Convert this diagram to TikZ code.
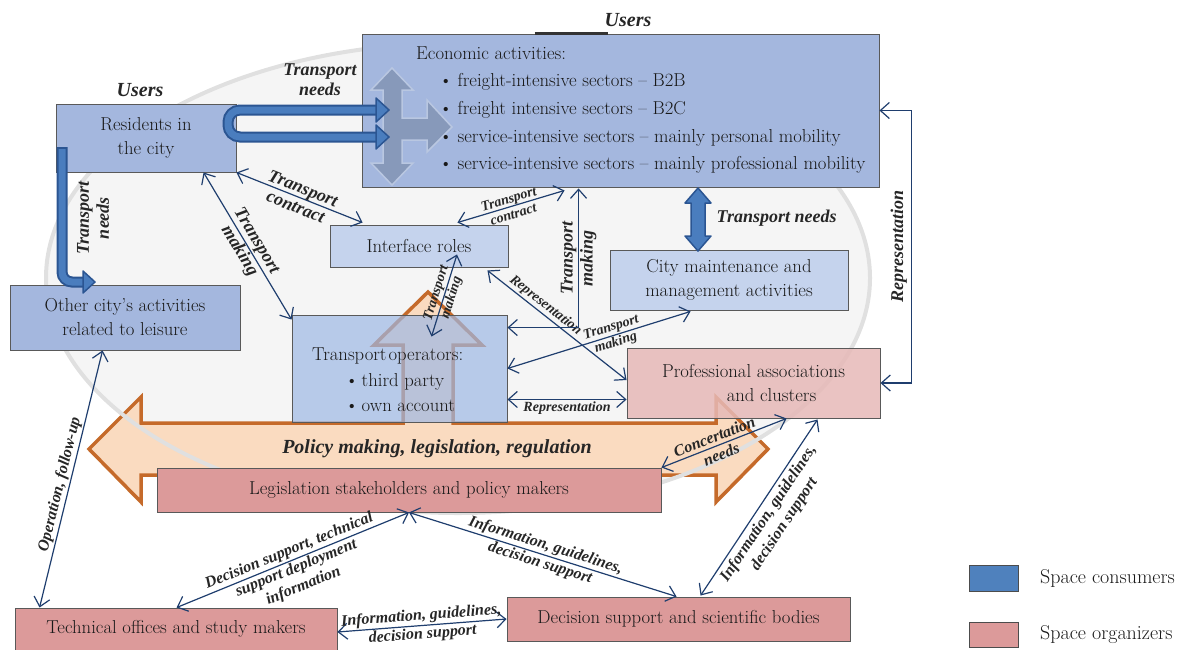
\documentclass[tikz,border=0pt]{standalone}
\usepackage{fontspec}
\newfontfamily\lblfont{Liberation Serif}
\usetikzlibrary{arrows.meta,calc}

\definecolor{blueA}{HTML}{A4B7DE}
\definecolor{blueB}{HTML}{C5D3ED}
\definecolor{blueC}{HTML}{9EB8E4}
\definecolor{pinkA}{HTML}{DC9A9A}
\definecolor{pinkB}{HTML}{E6B9B7}
\definecolor{linkblue}{HTML}{1F3E6E}
\definecolor{thickfill}{HTML}{4A7DBE}
\definecolor{thickdraw}{HTML}{2B5592}
\definecolor{policyfill}{HTML}{FADBC0}
\definecolor{policydraw}{HTML}{C56A2A}
\definecolor{crossfill}{HTML}{8799BA}
\definecolor{crossdraw}{HTML}{B9C7E1}
\definecolor{ovalfill}{HTML}{F5F5F5}
\definecolor{ovaldraw}{HTML}{E0E0E0}
\definecolor{legblue}{HTML}{4F81BD}

\tikzset{
  box/.style={draw=black!65, line width=0.9pt, inner sep=0pt, align=center,
    text=black!90, font=\fontsize{18.7}{24}\selectfont},
  consumer/.style={box, fill=blueA},
  consumerlt/.style={box, fill=blueB},
  organizer/.style={box, fill=pinkA},
  conn/.style={draw=linkblue, line width=1.2pt,
    {Straight Barb[length=9pt,width=16pt]}-{Straight Barb[length=9pt,width=16pt]}},
  lbl/.style={font=\lblfont\bfseries\itshape\fontsize{18}{20}\selectfont,
    align=center, inner sep=1.5pt, text=black!85},
  lblu/.style={lbl, font=\lblfont\bfseries\itshape\fontsize{20}{22}\selectfont},
  lblm/.style={lbl, font=\lblfont\bfseries\itshape\fontsize{16}{19}\selectfont},
  lbls/.style={lbl, font=\lblfont\bfseries\itshape\fontsize{14}{16}\selectfont},
  thickarrow/.style={fill=thickfill, draw=thickdraw, line width=1.5pt, line join=round},
}

\begin{document}
\begin{tikzpicture}[x=1pt, y=-1pt]
    \useasboundingbox (0,0) rectangle (1182,649);

    % Background oval
    \fill[ovalfill] (458,278) ellipse [x radius=412, y radius=235];

    % Policy arrow (left, up, right)
    \draw[fill=policyfill, draw=policydraw, line width=3.5pt]
        (89,449) -- (141,397) -- (141,423) -- (403,423) -- (403,345) -- (374,345)
        -- (428,292) -- (482,345) -- (453,345) -- (453,423) -- (716,423) -- (716,397)
        -- (768,449) -- (716,502) -- (716,475) -- (141,475) -- (141,502) -- cycle;

    % Oval rim
    \draw[draw=ovaldraw, line width=4pt] (458,278) ellipse [x radius=412, y radius=235];

    % Nodes
    \node[consumer, minimum width=517pt, minimum height=153pt] (eco) at (620.5,110.5) {};
    \node[consumer, minimum width=180pt, minimum height=68pt] (res) at (146,138) {Residents in\\the city};
    \node[consumer, minimum width=230pt, minimum height=65pt] (oth) at (125,317.5) {Other city’s activities\\related to leisure};
    \node[consumerlt, minimum width=178pt, minimum height=42pt] (ifr) at (419,246) {Interface roles};
    \node[consumerlt, minimum width=238pt, minimum height=60pt] (cty) at (729,280) {City maintenance and\\management activities};
    \node[box, fill=blueC, fill opacity=0.7, text opacity=1, minimum width=215pt, minimum height=107pt] (opr) at (399.5,368.5) {};
    \node[box, fill=pinkB, fill opacity=0.85, text opacity=1, minimum width=253pt, minimum height=70pt] (pro) at (753.5,383) {Professional associations\\\hspace*{36pt}and clusters};
    \node[organizer, minimum width=504pt, minimum height=44pt] (leg) at (409,490) {Legislation stakeholders and policy makers};
    \node[organizer, minimum width=322pt, minimum height=42pt] (tec) at (176,629) {Technical offices and study makers};
    \node[organizer, minimum width=343pt, minimum height=44pt] (dec) at (678.5,619) {Decision support and scientific bodies};

    \draw[line width=2.5pt, black!80] ($(eco.north west)+(173,0)$) -- ++(73,0);

    % Gray cross inside economic activities
    \draw[fill=crossfill, draw=crossdraw, line width=1.5pt]
        (392,68) -- (413,90) -- (402,90) -- (402,118) -- (427,118) -- (427,100) -- (452,127)
        -- (427,152) -- (427,140) -- (402,140) -- (402,163) -- (413,163) -- (392,185)
        -- (371,163) -- (383,163) -- (383,90) -- (371,90) -- cycle;

    % Texts of the two list boxes
    \node[anchor=west, align=left, inner sep=0pt, text=black!90, font=\fontsize{18.7}{27.7}\selectfont] (ecotxt) at (416,110)
        {Economic activities:\\
         \hspace*{23pt}\textbullet\hspace{5pt}freight-intensive sectors -- B2B\\
         \hspace*{23pt}\textbullet\hspace{5pt}freight intensive sectors -- B2C\\
         \hspace*{23pt}\textbullet\hspace{5pt}service-intensive sectors -- mainly personal mobility\\
         \hspace*{23pt}\textbullet\hspace{5pt}service-intensive sectors -- mainly professional mobility};
    \node[anchor=west, align=left, inner sep=0pt, text=black!90, font=\fontsize{18.7}{25.5}\selectfont] (oprtxt) at (312,380)
        {Transport\hspace{2pt}operators:\\
         \hspace*{33pt}\textbullet\hspace{3pt}third party\\
         \hspace*{33pt}\textbullet\hspace{3pt}own account};

    % Thick blue arrows
    \draw[thickdraw, line width=11pt, rounded corners=12pt] (377,110) -- (228,110) -- (228,137) -- (377,137);
    \draw[thickfill, line width=7pt, rounded corners=12pt] (377,110) -- (228,110) -- (228,137) -- (377,137);
    \filldraw[thickarrow] (376,98) -- (389,110) -- (376,122) -- cycle;
    \filldraw[thickarrow] (376,125) -- (389,137) -- (376,149) -- cycle;

    \draw[thickdraw, line width=11pt, rounded corners=10pt] (62,147) -- (62,282) -- (84,282);
    \draw[thickfill, line width=7pt, rounded corners=10pt] (62,149) -- (62,282) -- (84,282);
    \filldraw[thickarrow] (83,271) -- (95,282) -- (83,293) -- cycle;

    \filldraw[thickarrow] (698,188) -- (711,203) -- (705,203) -- (705,236) -- (711,236)
        -- (698,251) -- (685,236) -- (691,236) -- (691,203) -- (685,203) -- cycle;

    % Free labels
    \node[lblu] (usr1) at (140,90) {Users};
    \node[lblu] (usr2) at (628,20) {Users};
    \node[lbl] (tnt) at (320,80) {Transport\\needs};
    \node[lbl, rotate=90] (tnl) at (93,218) {Transport\\needs};
    \node[lbl, anchor=west] (tnr) at (715,218) {Transport needs};
    \node[lblu] (pol) at (437,449) {Policy making, legislation, regulation};

    % Lines
    \draw[conn] (res.south east) -- node[lbl, sloped] (lc1) {Transport\\contract} ($(ifr.north west)+(33,-2)$);
    \draw[conn] ($(res.south west)+(148,0)$) -- node[lbl, sloped] (lc2) {Transport\\making} ($(opr.north west)+(0,5)$);
    \draw[conn] ($(ifr.north east)+(-51,-2)$) -- node[lbls, sloped] (lc3) {Transport\\contract} ($(eco.south west)+(203,3)$);
    \draw[conn] ($(ifr.south)+(38,-13)$) -- node[lbls, sloped] (lc4) {Transport\\making} ($(opr.north)+(32,22)$);
    \draw[conn] ($(ifr.south east)+(-21,3)$) -- node[lbls, sloped, above, pos=0.38] (lc5) {Representation} ($(pro.west)+(0,-3)$);
    \draw[conn] (opr.east) -- node[lbls, sloped, pos=0.58] (lc6) {Transport\\making} ($(cty.south west)+(81,1)$);
    \draw[conn] ($(opr.south east)+(0,-23)$) -- node[lbls, below] (lc7) {Representation} ($(pro.south west)+(0,-19)$);
    \draw[conn] (eco.east) -- ++(32,0) |- node[lbl, pos=0.25, rotate=90, anchor=south, inner sep=4pt] (lc8) {Representation} (pro.east);
    \draw[conn] ($(eco.south west)+(217,1)$) |- node[lbl, pos=0.25, rotate=90] (lc9) {Transport\\making} ($(opr.north east)+(0,13)$);
    \draw[conn] (leg.north east) -- node[lblm, sloped, pos=0.45] (lc10) {Concertation\\needs} ($(pro.south west)+(160,0)$);
    \draw[conn] ($(dec.north west)+(194,-1)$) -- node[lblm, sloped, below=2pt] (lc11) {Information, guidelines,\\decision support} ($(pro.south west)+(191,1)$);
    \draw[conn] ($(tec.north west)+(25,0)$) -- node[lblm, sloped, above, pos=0.47] (lc12) {Operation, follow-up} ($(oth.south west)+(93,0)$);
    \draw[conn] ($(tec.north west)+(162,0)$) -- node[lblm, sloped, above] (lc13) {Decision support, technical}
        node[lblm, sloped, below] (lc14) {support deployment\\information} (leg.south);
    \draw[conn] (leg.south) -- node[lblm, sloped, above] (lc15) {Information, guidelines,}
        node[lblm, sloped, below] (lc16) {decision support} ($(dec.north west)+(170,0)$);
    \draw[conn] ($(tec.east)+(0,3)$) -- node[lblm, sloped, above] (lc17) {Information, guidelines,}
        node[lblm, sloped, below] (lc18) {decision support} (dec.west);

    % Legend
    \node[draw=black!70, line width=1pt, fill=legblue, minimum width=49pt, minimum height=26pt] (lgc) at (993.5,578) {};
    \node[draw=black!70, line width=1pt, fill=pinkA, minimum width=49pt, minimum height=25pt] (lgo) at (993.5,634.5) {};
    \node[anchor=west, inner sep=0pt, text=black!90, font=\fontsize{20}{22}\selectfont] (lgctxt) at (1040,578) {Space consumers};
    \node[anchor=west, inner sep=0pt, text=black!90, font=\fontsize{20}{22}\selectfont] (lgotxt) at (1040,635) {Space organizers};
\end{tikzpicture}
\end{document}
